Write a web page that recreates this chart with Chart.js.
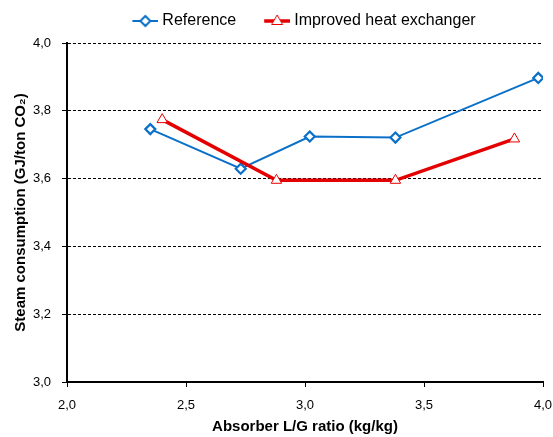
<!DOCTYPE html>
<html>
<head>
<meta charset="utf-8">
<script src="https://cdn.jsdelivr.net/npm/chart.js@4/dist/chart.umd.min.js"></script>
<style>
  body { margin: 0; background: #fff; }
  #wrap { width: 553px; height: 437px; }
</style>
</head>
<body>
<div id="wrap"><canvas id="steamChart" width="553" height="437"></canvas></div>
<script>
// values
var seriesNames = ['Reference', 'Improved heat exchanger'];
var refX = [2.35, 2.73, 3.02, 3.38, 3.98];
var refY = [3.746, 3.629, 3.724, 3.721, 3.897];
var impX = [2.40, 2.88, 3.38, 3.88];
var impY = [3.774, 3.595, 3.595, 3.717];
var xTicks = [2.0, 2.5, 3.0, 3.5, 4.0];
var yTicks = [3.0, 3.2, 3.4, 3.6, 3.8, 4.0];

var blue = 'rgb(10,112,200)';
var red = 'rgb(228,0,0)';

function toPoints(xs, ys) {
    return xs.map(function (x, i) { return { x: x, y: ys[i] }; });
}

function commaLabel(v) {
    return Number(v).toFixed(1).replace('.', ',');
}

// small canvas with line + marker for the legend
function legendIcon(color, lineW, marker) {
    var c = document.createElement('canvas');
    c.width = 41;
    c.height = 16;
    var g = c.getContext('2d');
    g.strokeStyle = color;
    g.lineWidth = lineW;
    g.beginPath();
    g.moveTo(15, 8);
    g.lineTo(41, 8);
    g.stroke();
    g.fillStyle = '#fff';
    g.beginPath();
    if (marker === 'diamond') {
        g.lineWidth = 2;
        g.moveTo(28, 3); g.lineTo(33, 8); g.lineTo(28, 13); g.lineTo(23, 8);
    } else {
        g.lineWidth = 1;
        g.moveTo(28, 2); g.lineTo(33.5, 11.5); g.lineTo(22.5, 11.5);
    }
    g.closePath();
    g.fill();
    g.stroke();
    return c;
}

var icons = [legendIcon(blue, 2, 'diamond'), legendIcon(red, 3.5, 'triangle')];

// nudge the legend so it sits over the plot like the original
var legendShift = {
    id: 'legendShift',
    afterLayout: function (chart) {
        chart.legend.left += 22;
        chart.legend.right += 22;
        chart.legend.top -= 4;
    }
};

var ctx = document.getElementById('steamChart');
var chart = new Chart(ctx, {
    type: 'line',
    data: {
        datasets: [{
            label: seriesNames[0],
            data: toPoints(refX, refY),
            borderColor: blue,
            backgroundColor: '#fff',
            borderWidth: 2,
            pointStyle: 'rectRot',
            pointRadius: 5,
            pointBorderWidth: 2.2,
            pointBackgroundColor: '#fff',
            pointBorderColor: blue,
            order: 1
        }, {
            label: seriesNames[1],
            data: toPoints(impX, impY),
            borderColor: red,
            backgroundColor: '#fff',
            borderWidth: 3.5,
            pointStyle: 'triangle',
            pointRadius: 6,
            pointBorderWidth: 1,
            pointBackgroundColor: '#fff',
            pointBorderColor: red,
            order: 0
        }]
    },
    options: {
        responsive: false,
        animation: false,
        layout: { padding: 0 },
        plugins: {
            tooltip: { enabled: false },
            legend: {
                position: 'top',
                labels: {
                    usePointStyle: true,
                    pointStyleWidth: 33,
                    padding: 17,
                    color: '#000',
                    font: { family: 'Liberation Sans', size: 16 },
                    sort: function (a, b) { return a.datasetIndex - b.datasetIndex; },
                    generateLabels: function (chart) {
                        return chart.data.datasets.map(function (ds, i) {
                            return {
                                text: ds.label,
                                datasetIndex: i,
                                pointStyle: icons[i],
                                fontColor: '#000',
                                lineWidth: 0,
                                hidden: false
                            };
                        });
                    }
                }
            }
        },
        scales: {
            x: {
                type: 'linear',
                min: 2,
                max: 4,
                afterFit: function (scale) {
                    scale.height = 55;
                    scale.paddingRight = 10;
                },
                afterBuildTicks: function (scale) {
                    scale.ticks = xTicks.map(function (v) { return { value: v }; });
                },
                ticks: {
                    padding: 11,
                    color: '#000',
                    font: { family: 'Liberation Sans', size: 13 },
                    callback: commaLabel
                },
                grid: {
                    drawOnChartArea: false,
                    drawTicks: true,
                    tickLength: 5,
                    tickColor: '#000',
                    tickWidth: 1
                },
                border: { color: '#000', width: 2 },
                title: {
                    display: true,
                    text: 'Absorber L/G ratio (kg/kg)',
                    color: '#000',
                    font: { family: 'Liberation Sans', size: 15, weight: 'bold' },
                    padding: { top: 1, bottom: 1 }
                }
            },
            y: {
                min: 3,
                max: 4,
                afterFit: function (scale) { scale.width = 67; },
                afterBuildTicks: function (scale) {
                    scale.ticks = yTicks.map(function (v) { return { value: v }; });
                },
                ticks: {
                    padding: 11,
                    color: '#000',
                    font: { family: 'Liberation Sans', size: 13 },
                    callback: commaLabel
                },
                grid: {
                    color: '#000',
                    lineWidth: 1,
                    drawTicks: true,
                    tickLength: 5,
                    tickColor: '#000',
                    tickWidth: 1,
                    tickBorderDash: []
                },
                border: { color: '#000', width: 2, dash: [3, 2] },
                title: {
                    display: true,
                    text: 'Steam consumption (GJ/ton CO\u2082)',
                    color: '#000',
                    font: { family: 'Liberation Sans', size: 15, weight: 'bold' },
                    padding: { top: 12, bottom: 12 }
                }
            }
        }
    },
    plugins: [legendShift]
});
</script>
</body>
</html>
